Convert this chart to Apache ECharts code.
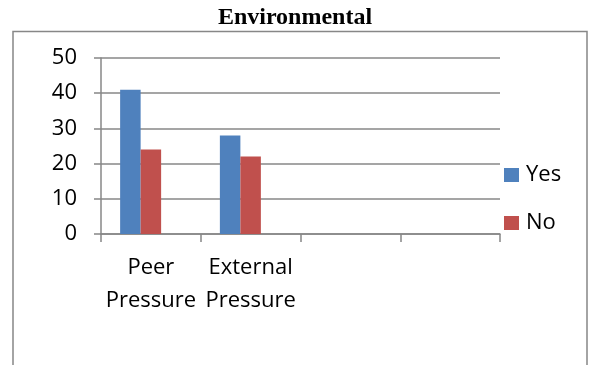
<!DOCTYPE html>
<html><head><meta charset="utf-8">
<script src="https://cdn.jsdelivr.net/npm/echarts@6/dist/echarts.min.js"></script>
<style>html,body{margin:0;padding:0;background:#fff}#c{width:590px;height:365px}</style>
</head><body><div id="c"></div>
<script>
const categories = ['Peer\nPressure', 'External\nPressure', '', ''];
const yesValues = [41, 28, null, null];
const noValues = [24, 22, null, null];
const emptyValues = [null, null, null, null];
const yTicks = [0, 10, 20, 30, 40, 50];

const chart = echarts.init(document.getElementById('c'));
const FONT = '"Open Sans", sans-serif';
const GRAY = '#878787';
chart.setOption({
  animation: false,
  title: {
    text: 'Environmental', left: 'center', top: 6, padding: 0,
    textStyle: { fontFamily: '"Liberation Serif", serif', fontWeight: 'bold', fontSize: 24, color: '#000' }
  },
  graphic: [{
    type: 'rect', shape: { x: 13, y: 31.5, width: 574, height: 400 },
    style: { fill: null, stroke: GRAY, lineWidth: 1.5 }, silent: true
  }],
  legend: {
    data: ['Yes', 'No'], orient: 'vertical', left: 504, top: 164,
    itemWidth: 15, itemHeight: 14, itemGap: 26, icon: 'rect', padding: 0,
    textStyle: { fontFamily: FONT, fontSize: 22, color: '#000', padding: [0, 0, 0, 2] }
  },
  grid: { left: 101, right: 90, top: 58, bottom: 131, containLabel: false },
  xAxis: {
    type: 'category', data: categories, boundaryGap: true,
    axisLine: { show: true, lineStyle: { color: GRAY, width: 1.5 } },
    axisTick: { show: true, length: 8, lineStyle: { color: GRAY, width: 1.5 } },
    axisLabel: { fontFamily: FONT, fontSize: 22, color: '#000', margin: 17, lineHeight: 33, interval: 0 }
  },
  yAxis: {
    type: 'value', min: 0, max: 50, interval: 10,
    axisLine: { show: true, lineStyle: { color: GRAY, width: 1.5 } },
    axisTick: { show: true, length: 7, lineStyle: { color: GRAY, width: 1.5 } },
    splitLine: { show: true, lineStyle: { color: GRAY, width: 1.5 } },
    axisLabel: { fontFamily: FONT, fontSize: 22, color: '#000', margin: 24,
      formatter: v => yTicks.includes(v) ? String(v) : '' }
  },
  series: [
    { name: 'Yes', type: 'bar', data: yesValues, barWidth: 20.5, barGap: '0%', itemStyle: { color: '#4F81BD' } },
    { name: 'No', type: 'bar', data: noValues, barWidth: 20.5, barGap: '0%', itemStyle: { color: '#C0504D' } },
    { name: 'Series3', type: 'bar', data: emptyValues, barWidth: 20.5, barGap: '0%', itemStyle: { color: '#9BBB59' } }
  ]
});
</script></body></html>
